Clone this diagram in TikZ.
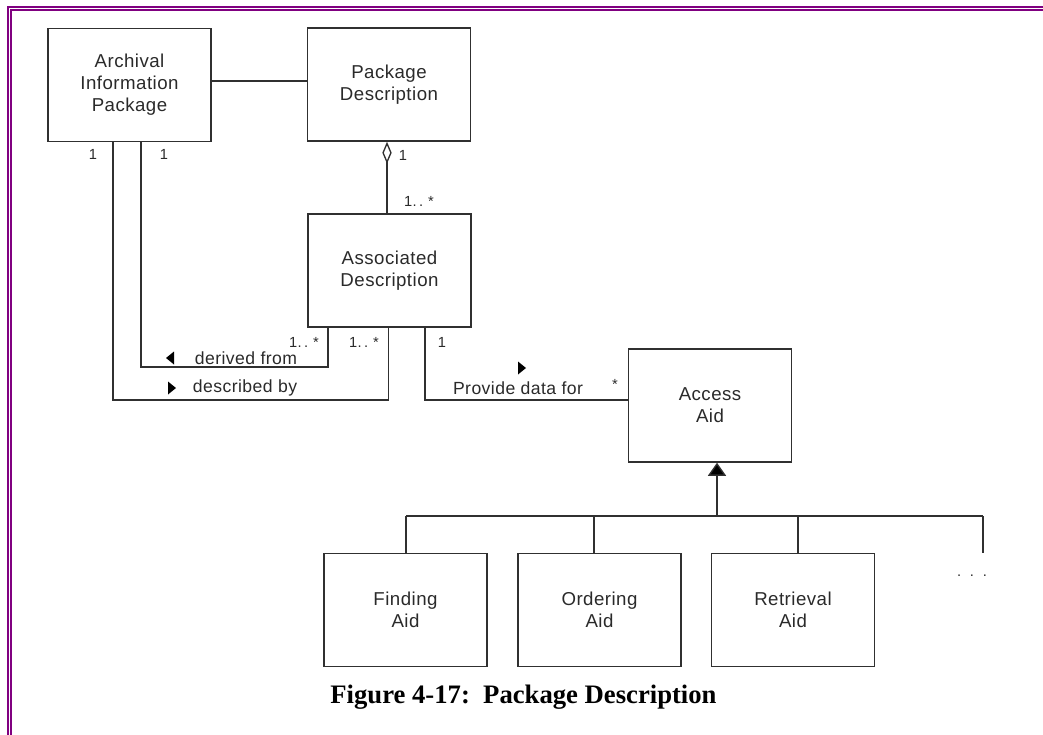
\documentclass[tikz,border=0pt]{standalone}
\usepackage{fontspec}
\setmainfont{Liberation Serif}
\newfontfamily\uml[LetterSpace=2.5]{Liberation Sans}
\usetikzlibrary{arrows.meta}
\definecolor{umlline}{HTML}{303030}
\definecolor{umltext}{HTML}{2A2A2A}
\definecolor{framecol}{HTML}{800080}

\begin{document}
\begin{tikzpicture}[x=0.75pt,y=-0.75pt,
  umlbox/.style={draw=umlline, line width=1.15pt, minimum width=122.25pt,
    minimum height=84.75pt, align=center, text=umltext, inner sep=0pt,
    font=\uml\fontsize{14}{16.5}\selectfont},
  conn/.style={draw=umlline, line width=1pt},
  rolelbl/.style={font=\uml\fontsize{13.2}{15}\selectfont, text=umltext, inner sep=0pt},
  multlbl/.style={font=\uml\fontsize{11}{12}\selectfont, text=umltext, inner sep=0pt},
  dirmark/.style={fill=black},
]
\useasboundingbox (0,0) rectangle (1043,735);

% double frame
\draw[framecol, line width=1.5pt] (7.8,735) -- (7.8,6.7) -- (1043,6.7);
\draw[framecol, line width=1.5pt] (11,735) -- (11,10) -- (1043,10);

% classes
\node[umlbox] (AIP) at (129.5,85)  {Archival\\Information\\Package};
\node[umlbox] (PD)  at (389,84.5)  {Package\\Description};
\node[umlbox] (AD)  at (389.5,270.5) {Associated\\Description};
\node[umlbox] (AA)  at (710,405.5) {Access\\Aid};
\node[umlbox] (FA)  at (405.5,610) {Finding\\Aid};
\node[umlbox] (OA)  at (599.5,610) {Ordering\\Aid};
\node[umlbox] (RA)  at (793,610)   {Retrieval\\Aid};

% helper coordinates for routed connectors
\coordinate (top) at (0,81);
\coordinate (dm) at (387,0);
\coordinate (dA) at (141,367);
\coordinate (dB) at (328,367);
\coordinate (dC) at (113,400);
\coordinate (dD) at (388.5,400);
\coordinate (pA) at (425,400);
\coordinate (g)  at (717,516);
\coordinate (b1) at (406,516);
\coordinate (b2) at (594,516);
\coordinate (b3) at (798,516);
\coordinate (b4) at (983,516);

% associations
\draw[conn] (AIP.east |- top) -- (PD.west |- top);
\draw[conn, {Diamond[open, length=16.5pt, width=7pt, line width=1pt]}-] (PD.south -| dm) -- (AD.north -| dm);
\draw[conn] (AIP.south -| dA) -- (dA) -- (dB) -- (AD.south -| dB);
\draw[conn] (AIP.south -| dC) -- (dC) -- (dD) -- (AD.south -| dD);
\draw[conn] (AD.south -| pA) |- (AA.west |- pA);

% generalization tree
\draw[conn, -{Triangle[length=9.75pt, width=13.5pt, fill=black]}] (g) -- (AA.south -| g);
\draw[conn] (b1) -- (b4);
\draw[conn] (b1) -- (FA.north -| b1);
\draw[conn] (b2) -- (OA.north -| b2);
\draw[conn] (b3) -- (RA.north -| b3);
\coordinate (b5) at (983,553);
\draw[conn] (b4) -- (b5);
\node[multlbl, anchor=base] (more) at (972,576) {.\ \ .\ \ .};

% multiplicities
\node[multlbl] (m1) at (93,154) {1};
\node[multlbl] (m2) at (164,154) {1};
\node[multlbl] (m3) at (403,155) {1};
\node[multlbl] (m4) at (419,201) {1.\,.\,\,*};
\node[multlbl] (m5) at (304,342) {1.\,.\,\,*};
\node[multlbl] (m6) at (364,342) {1.\,.\,\,*};
\node[multlbl] (m7) at (442,342) {1};
\node[multlbl] (m8) at (615,384) {*};

% role names with reading direction marks
\node[rolelbl] (derived) at (246,358) {derived from};
\fill[dirmark] (174,351.5) -- (166,358) -- (174,364.5) -- cycle;
\node[rolelbl] (described) at (245,388) {described by};
\fill[dirmark] (168,381.5) -- (176,388) -- (168,394.5) -- cycle;
\node[rolelbl] (provide) at (518,388) {Provide data for};
\fill[dirmark] (518,361.5) -- (526,368) -- (518,374.5) -- cycle;

% caption
\node[font=\bfseries\fontsize{20}{24}\selectfont] (cap) at (523.5,697) {Figure 4-17:\ \ Package Description};
\end{tikzpicture}
\end{document}
